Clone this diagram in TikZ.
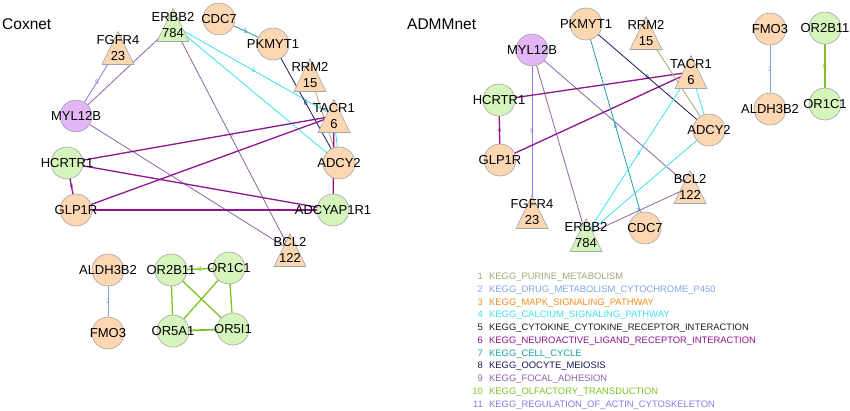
\documentclass[tikz,border=0pt]{standalone}
\usepackage{fontspec}
\setmainfont{Liberation Sans}
\usetikzlibrary{backgrounds}

\definecolor{peach}{RGB}{252,215,178}
\definecolor{leaf}{RGB}{214,245,188}
\definecolor{lilac}{RGB}{226,182,245}
\definecolor{nodeline}{RGB}{165,165,165}
\definecolor{k1}{RGB}{163,168,122}
\definecolor{k2}{RGB}{128,166,228}
\definecolor{k3}{RGB}{240,140,30}
\definecolor{k4}{RGB}{64,224,232}
\definecolor{k5}{RGB}{30,30,30}
\definecolor{k6}{RGB}{144,20,140}
\definecolor{k7}{RGB}{30,160,165}
\definecolor{k8}{RGB}{25,25,90}
\definecolor{k9}{RGB}{140,100,165}
\definecolor{k10}{RGB}{125,195,35}
\definecolor{k11}{RGB}{140,120,230}

\newcommand{\glab}[1]{\makebox[0pt]{#1}}

\begin{document}
\begin{tikzpicture}[x=1pt, y=-1pt,
    gene/.style = {draw=nodeline, line width=0.6pt, circle, minimum size=32pt, inner sep=0pt, font=\fontsize{13}{15}\selectfont},
    tri/.style = {minimum width=33pt, minimum height=34pt, inner sep=0pt,
        path picture={\filldraw[draw=nodeline, line width=0.6pt, fill=#1]
            ([xshift=0.5pt, yshift=0.5pt]path picture bounding box.south west) --
            ([xshift=-0.5pt, yshift=0.5pt]path picture bounding box.south east) --
            ([yshift=-0.6pt]path picture bounding box.north) -- cycle;}},
    trilab/.style = {align=center, inner sep=0pt, font=\fontsize{13}{16.5}\selectfont},
    title/.style = {anchor=base west, inner sep=0pt, font=\fontsize{15.5}{18}\selectfont},
    link/.style = {color=#1, line width=0.8pt},
    thick link/.style = {color=#1, line width=1.3pt},
    elab/.style = {inner sep=0pt, font=\fontsize{6.5}{7}\selectfont},
    keytext/.style = {inner sep=0pt, font=\fontsize{9.4}{11}\selectfont}]

    \useasboundingbox (0,0) rectangle (850,410);

    \node[title] (tcox) at (2,29) {Coxnet};
    \node[title] (tadmm) at (407,29) {ADMMnet};

    \node[tri=leaf] (cERBB2) at (173,25) {};
    \node[trilab] (cERBB2t) at (cERBB2) {ERBB2\\784};
    \node[tri=peach] (cFGFR4) at (118,48) {};
    \node[trilab] (cFGFR4t) at (cFGFR4) {FGFR4\\23};
    \node[tri=peach] (cRRM2) at (310,75) {};
    \node[trilab] (cRRM2t) at (cRRM2) {RRM2\\15};
    \node[tri=peach] (cTACR1) at (334,116) {};
    \node[trilab] (cTACR1t) at (cTACR1) {TACR1\\6};
    \node[tri=peach] (cBCL2) at (290,250) {};
    \node[trilab] (cBCL2t) at (cBCL2) {BCL2\\122};

    \node[gene, fill=peach] (cCDC7) at (219,19) {\glab{CDC7}};
    \node[gene, fill=peach] (cPKMYT1) at (273,44) {\glab{PKMYT1}};
    \node[gene, fill=peach] (cADCY2) at (339,163) {\glab{ADCY2}};
    \node[gene, fill=leaf] (cADCYAP1R1) at (333,210) {\glab{ADCYAP1R1}};
    \node[gene, fill=lilac] (cMYL12B) at (76,116) {\glab{MYL12B}};
    \node[gene, fill=leaf] (cHCRTR1) at (67,163) {\glab{HCRTR1}};
    \node[gene, fill=peach] (cGLP1R) at (76,210) {\glab{GLP1R}};
    \node[gene, fill=peach] (cALDH3B2) at (108,270) {\glab{ALDH3B2}};
    \node[gene, fill=peach] (cFMO3) at (108,333) {\glab{FMO3}};
    \node[gene, fill=leaf] (cOR2B11) at (171,270) {\glab{OR2B11}};
    \node[gene, fill=leaf] (cOR1C1) at (229,268) {\glab{OR1C1}};
    \node[gene, fill=leaf] (cOR5A1) at (173,331) {\glab{OR5A1}};
    \node[gene, fill=leaf] (cOR5I1) at (233,329) {\glab{OR5I1}};

    \node[tri=peach] (aFGFR4) at (532,212) {};
    \node[trilab] (aFGFR4t) at (aFGFR4) {FGFR4\\23};
    \node[tri=leaf] (aERBB2) at (586,235) {};
    \node[trilab] (aERBB2t) at (aERBB2) {ERBB2\\784};
    \node[tri=peach] (aBCL2) at (690,187) {};
    \node[trilab] (aBCL2t) at (aBCL2) {BCL2\\122};
    \node[tri=peach] (aTACR1) at (691,72) {};
    \node[trilab] (aTACR1t) at (aTACR1) {TACR1\\6};
    \node[tri=peach] (aRRM2) at (646,33) {};
    \node[trilab] (aRRM2t) at (aRRM2) {RRM2\\15};

    \node[gene, fill=peach] (aPKMYT1) at (586,24) {\glab{PKMYT1}};
    \node[gene, fill=lilac] (aMYL12B) at (532,50) {\glab{MYL12B}};
    \node[gene, fill=leaf] (aHCRTR1) at (499,100) {\glab{HCRTR1}};
    \node[gene, fill=peach] (aGLP1R) at (500,160) {\glab{GLP1R}};
    \node[gene, fill=peach] (aCDC7) at (645,228) {\glab{CDC7}};
    \node[gene, fill=peach] (aADCY2) at (709,130) {\glab{ADCY2}};
    \node[gene, fill=peach] (aFMO3) at (770,29) {\glab{FMO3}};
    \node[gene, fill=peach] (aALDH3B2) at (770,109) {\glab{ALDH3B2}};
    \node[gene, fill=leaf] (aOR2B11) at (825,28) {\glab{OR2B11}};
    \node[gene, fill=leaf] (aOR1C1) at (825,104) {\glab{OR1C1}};

    \begin{pgfonlayer}{background}
    \draw[link=k11] (cFGFR4.center) -- node[elab] {9} (cMYL12B.center);
    \draw[link=k9] (cERBB2.center) -- (cMYL12B.center);
    \draw[link=k9] (cERBB2.center) -- node[elab] {7} (cBCL2.center);
    \draw[link=k9] (cMYL12B.center) -- (cBCL2.center);
    \draw[link=k4] (cERBB2.center) -- node[elab] {3} (cTACR1.center);
    \draw[link=k4] (cERBB2.center) -- (cADCY2.center);
    \draw[link=k4] (cTACR1.center) -- (cADCY2.center);
    \draw[link=k7] (cCDC7.center) -- node[elab] {5} (cPKMYT1.center);
    \draw[link=k8] (cPKMYT1.center) -- node[elab] {6} (cADCY2.center);
    \draw[link=k1] (cRRM2.center) -- (cADCY2.center);
    \draw[thick link=k6] (cTACR1.center) -- (cADCYAP1R1.center);
    \draw[thick link=k6] (cHCRTR1.center) -- (cTACR1.center);
    \draw[thick link=k6] (cHCRTR1.center) -- (cADCYAP1R1.center);
    \draw[thick link=k6] (cGLP1R.center) -- (cTACR1.center);
    \draw[thick link=k6] (cGLP1R.center) -- (cADCYAP1R1.center);
    \draw[thick link=k6] (cHCRTR1.center) -- node[elab] {4} (cGLP1R.center);
    \draw[link=k2] (cALDH3B2.center) -- node[elab] {2} (cFMO3.center);
    \draw[thick link=k10] (cOR2B11.center) -- node[elab] {8} (cOR1C1.center);
    \draw[thick link=k10] (cOR2B11.center) -- (cOR5A1.center);
    \draw[thick link=k10] (cOR2B11.center) -- (cOR5I1.center);
    \draw[thick link=k10] (cOR1C1.center) -- (cOR5A1.center);
    \draw[thick link=k10] (cOR1C1.center) -- (cOR5I1.center);
    \draw[thick link=k10, line width=1.7pt] (cOR5A1.center) -- (cOR5I1.center);

    \draw[link=k11] (aMYL12B.center) -- node[elab] {9} (aFGFR4.center);
    \draw[link=k9] (aMYL12B.center) -- (aERBB2.center);
    \draw[link=k9] (aMYL12B.center) -- (aBCL2.center);
    \draw[link=k9] (aERBB2.center) -- node[elab] {7} (aBCL2.center);
    \draw[thick link=k6] (aHCRTR1.center) -- node[elab] {4} (aGLP1R.center);
    \draw[thick link=k6] (aHCRTR1.center) -- (aTACR1.center);
    \draw[thick link=k6] (aGLP1R.center) -- (aTACR1.center);
    \draw[link=k8] (aPKMYT1.center) -- node[elab] {6} (aADCY2.center);
    \draw[link=k7] (aPKMYT1.center) -- node[elab] {5} (aCDC7.center);
    \draw[link=k1] (aRRM2.center) -- (aADCY2.center);
    \draw[link=k4] (aTACR1.center) -- (aADCY2.center);
    \draw[link=k4] (aTACR1.center) -- node[elab] {3} (aERBB2.center);
    \draw[link=k4] (aADCY2.center) -- (aERBB2.center);
    \draw[link=k2] (aFMO3.center) -- node[elab] {2} (aALDH3B2.center);
    \draw[thick link=k10] (aOR2B11.center) -- node[elab] {8} (aOR1C1.center);
    \end{pgfonlayer}

    \foreach \n/\t in {1/KEGG\_PURINE\_METABOLISM, 2/KEGG\_DRUG\_METABOLISM\_CYTOCHROME\_P450,
        3/KEGG\_MAPK\_SIGNALING\_PATHWAY, 4/KEGG\_CALCIUM\_SIGNALING\_PATHWAY,
        5/KEGG\_CYTOKINE\_CYTOKINE\_RECEPTOR\_INTERACTION, 6/KEGG\_NEUROACTIVE\_LIGAND\_RECEPTOR\_INTERACTION,
        7/KEGG\_CELL\_CYCLE, 8/KEGG\_OOCYTE\_MEIOSIS, 9/KEGG\_FOCAL\_ADHESION,
        10/KEGG\_OLFACTORY\_TRANSDUCTION, 11/KEGG\_REGULATION\_OF\_ACTIN\_CYTOSKELETON} {
        \node[keytext, text=k\n, anchor=base east] (n\n) at (483, {279.5+(\n-1)*12.75}) {\n};
        \node[keytext, text=k\n, anchor=base west] (t\n) at (489, {279.5+(\n-1)*12.75}) {\t};
    }

\end{tikzpicture}
\end{document}
